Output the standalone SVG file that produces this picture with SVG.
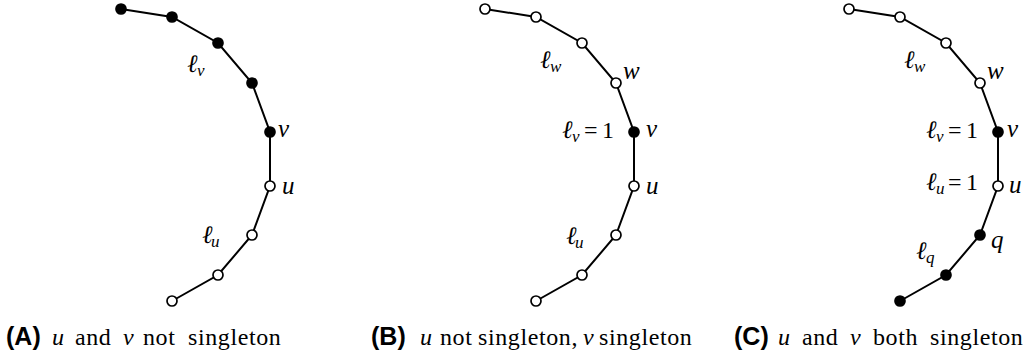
<svg xmlns="http://www.w3.org/2000/svg" width="1030" height="360" viewBox="0 0 1030 360">
<style>
.e{stroke:#000;stroke-width:2;fill:none}
.o{fill:#fff;stroke:#000;stroke-width:1.7}
.f{fill:#000;stroke:#000;stroke-width:1.7}
text{font-family:'Liberation Serif','Times New Roman',serif;fill:#000}
.m{font-style:italic;font-size:25px}
.r{font-style:normal;font-size:24px}
.s{font-style:italic;font-size:17px}
.cap{font-size:24px;letter-spacing:0.6px}
.ci{font-style:italic;letter-spacing:0}
.b{font-family:'Liberation Sans',Arial,sans-serif;font-weight:bold;font-size:25px;letter-spacing:0}
</style>
<g id="connectors">
<polyline class="e" points="121,9 172,17 218,43 252,83 270,132 270,186 252,235 218,275 172,301"/>
<polyline class="e" points="485,9 536,17 582,43 616,83 634,132 634,186 616,235 582,275 536,301"/>
<polyline class="e" points="849,9 900,17 946,43 980,83 998,132 998,186 980,235 946,275 900,301"/>
</g>
<g id="panelA">
<g id="a1"><circle class="f" cx="121" cy="9" r="5"/></g>
<g id="a2"><circle class="f" cx="172" cy="17" r="5"/></g>
<g id="a3"><circle class="f" cx="218" cy="43" r="5"/></g>
<g id="a4"><circle class="f" cx="252" cy="83" r="5"/></g>
<g id="a5"><circle class="f" cx="270" cy="132" r="5"/><text class="m" x="278" y="137">v</text></g>
<g id="a6"><circle class="o" cx="270" cy="186" r="5"/><text class="m" x="282" y="194">u</text></g>
<g id="a7"><circle class="o" cx="252" cy="235" r="5"/></g>
<g id="a8"><circle class="o" cx="218" cy="275" r="5"/></g>
<g id="a9"><circle class="o" cx="172" cy="301" r="5"/></g>
<g id="a-lv"><text class="m" x="187" y="72">ℓ<tspan class="s" x="197" y="76">v</tspan></text></g>
<g id="a-lu"><text class="m" x="202" y="243">ℓ<tspan class="s" x="211" y="247">u</tspan></text></g>
</g>
<g id="panelB">
<g id="b1"><circle class="o" cx="485" cy="9" r="5"/></g>
<g id="b2"><circle class="o" cx="536" cy="17" r="5"/></g>
<g id="b3"><circle class="o" cx="582" cy="43" r="5"/></g>
<g id="b4"><circle class="o" cx="616" cy="83" r="5"/><text class="m" x="623" y="79">w</text></g>
<g id="b5"><circle class="f" cx="634" cy="132" r="5"/><text class="m" x="646" y="137">v</text></g>
<g id="b6"><circle class="o" cx="634" cy="186" r="5"/><text class="m" x="646" y="194">u</text></g>
<g id="b7"><circle class="o" cx="616" cy="235" r="5"/></g>
<g id="b8"><circle class="o" cx="582" cy="275" r="5"/></g>
<g id="b9"><circle class="o" cx="536" cy="301" r="5"/></g>
<g id="b-lw"><text class="m" x="540" y="68">ℓ<tspan class="s" x="550" y="72">w</tspan></text></g>
<g id="b-lv"><text class="m" x="562" y="138">ℓ<tspan class="s" x="572" y="142">v</tspan><tspan class="r" x="584" y="138">=</tspan><tspan class="r" x="602" y="138">1</tspan></text></g>
<g id="b-lu"><text class="m" x="566" y="244">ℓ<tspan class="s" x="575" y="248">u</tspan></text></g>
</g>
<g id="panelC">
<g id="c1"><circle class="o" cx="849" cy="9" r="5"/></g>
<g id="c2"><circle class="o" cx="900" cy="17" r="5"/></g>
<g id="c3"><circle class="o" cx="946" cy="43" r="5"/></g>
<g id="c4"><circle class="o" cx="980" cy="83" r="5"/><text class="m" x="987" y="79">w</text></g>
<g id="c5"><circle class="f" cx="998" cy="132" r="5"/><text class="m" x="1007" y="137">v</text></g>
<g id="c6"><circle class="o" cx="998" cy="186" r="5"/><text class="m" x="1009" y="193">u</text></g>
<g id="c7"><circle class="f" cx="980" cy="235" r="5"/><text class="m" x="991" y="248">q</text></g>
<g id="c8"><circle class="f" cx="946" cy="275" r="5"/></g>
<g id="c9"><circle class="f" cx="900" cy="301" r="5"/></g>
<g id="c-lw"><text class="m" x="904" y="68">ℓ<tspan class="s" x="914" y="72">w</tspan></text></g>
<g id="c-lv"><text class="m" x="926" y="138">ℓ<tspan class="s" x="936" y="142">v</tspan><tspan class="r" x="948" y="138">=</tspan><tspan class="r" x="966" y="138">1</tspan></text></g>
<g id="c-lu"><text class="m" x="926" y="190">ℓ<tspan class="s" x="936" y="194">u</tspan><tspan class="r" x="948" y="190">=</tspan><tspan class="r" x="966" y="190">1</tspan></text></g>
<g id="c-lq"><text class="m" x="916" y="259">ℓ<tspan class="s" x="926" y="263">q</tspan></text></g>
</g>
<g id="captions">
<text class="cap" y="345"><tspan class="b" x="6">(A)</tspan><tspan class="ci" x="52">u</tspan><tspan x="75">and</tspan><tspan class="ci" x="123">v</tspan><tspan x="143">not</tspan><tspan x="188">singleton</tspan></text>
<text class="cap" y="345"><tspan class="b" x="371">(B)</tspan><tspan class="ci" x="420">u</tspan><tspan x="440">not</tspan><tspan x="478">singleton,</tspan><tspan class="ci" x="583">v</tspan><tspan x="599">singleton</tspan></text>
<text class="cap" y="345"><tspan class="b" x="734">(C)</tspan><tspan class="ci" x="778">u</tspan><tspan x="802">and</tspan><tspan class="ci" x="850">v</tspan><tspan x="873">both</tspan><tspan x="930">singleton</tspan></text>
</g>
</svg>
